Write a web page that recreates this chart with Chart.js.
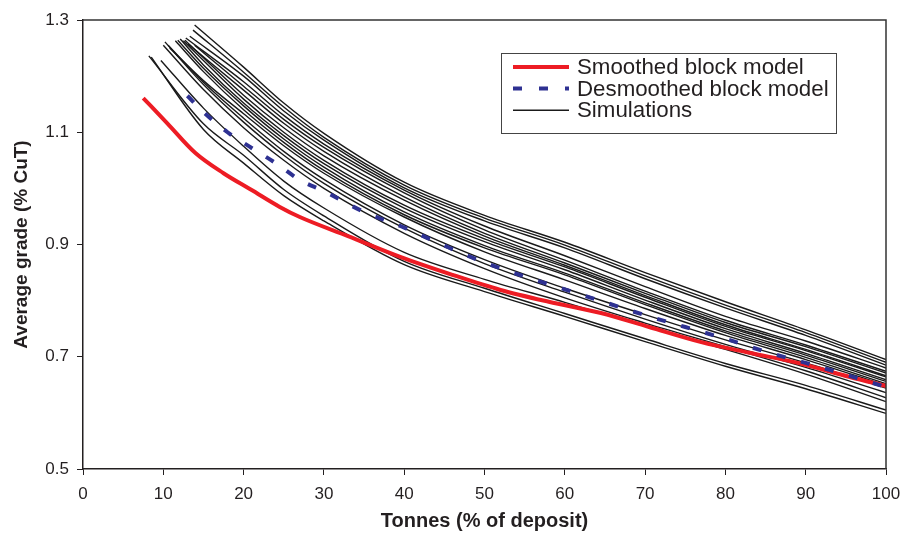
<!DOCTYPE html>
<html>
<head>
<meta charset="utf-8">
<script src="https://cdn.jsdelivr.net/npm/chart.js"></script>
<style>
  body { margin: 0; background: #fff; }
</style>
</head>
<body>
<canvas id="gradeChart" width="903" height="534"></canvas>
<script>
// smoothed block model (red)
var smoothX = [7.5, 10.5, 14, 17.5, 21, 24.5, 27, 33, 39.5, 46, 52, 58, 64.5, 70.5, 77, 83, 89, 95.5, 100];
var smoothY = [1.161, 1.116, 1.063, 1.027, 0.997, 0.967, 0.949, 0.915, 0.878, 0.846, 0.819, 0.798, 0.778, 0.753, 0.726, 0.707, 0.689, 0.664, 0.648];

// desmoothed block model (blue dashed)
var desmoothX = [13, 15, 18, 21, 24, 27, 30, 35, 40, 45, 50, 55, 60, 65, 70, 75, 80, 85, 90, 95, 100];
var desmoothY = [1.165, 1.136, 1.1, 1.072, 1.045, 1.015, 0.995, 0.958, 0.93, 0.898, 0.868, 0.843, 0.82, 0.797, 0.774, 0.753, 0.732, 0.709, 0.689, 0.668, 0.646];

// simulations: start point, value at 15 (if started before), then values on a common grid
var simStartX = [13.9, 13.7, 13.3, 12.8, 13.9, 13.1, 12.7, 12.5, 12.1, 11.8, 11.5, 10.8, 10.6, 10.2, 10.0, 9.7, 8.2, 8.5];
var simStartY = [1.291, 1.282, 1.271, 1.268, 1.255, 1.257, 1.264, 1.263, 1.266, 1.264, 1.263, 1.250, 1.255, 1.261, 1.255, 1.228, 1.236, 1.234];
var simAt15 = [null, null, null, null, null, null, null, null, 1.220, 1.214, 1.208, 1.192, 1.189, 1.185, 1.176, 1.143, 1.115, 1.105];
var simGridX = [20, 25, 30, 40, 50, 60, 70, 80, 90, 100];

var sim01 = [1.216, 1.152, 1.098, 1.011, 0.952, 0.904, 0.850, 0.798, 0.748, 0.695];
var sim02 = [1.207, 1.145, 1.091, 1.006, 0.947, 0.899, 0.844, 0.792, 0.743, 0.690];
var sim03 = [1.200, 1.138, 1.086, 1.001, 0.942, 0.894, 0.839, 0.787, 0.738, 0.685];
var sim04 = [1.190, 1.130, 1.079, 0.997, 0.933, 0.880, 0.825, 0.772, 0.728, 0.680];
var sim05 = [1.182, 1.123, 1.073, 0.992, 0.926, 0.872, 0.817, 0.765, 0.721, 0.674];
var sim06 = [1.175, 1.116, 1.066, 0.985, 0.920, 0.867, 0.813, 0.761, 0.718, 0.671];
var sim07 = [1.166, 1.108, 1.058, 0.979, 0.915, 0.863, 0.809, 0.757, 0.713, 0.666];
var sim08 = [1.159, 1.100, 1.050, 0.970, 0.910, 0.860, 0.806, 0.754, 0.711, 0.664];
var sim09 = [1.152, 1.094, 1.044, 0.965, 0.905, 0.855, 0.801, 0.750, 0.706, 0.659];
var sim10 = [1.147, 1.088, 1.038, 0.958, 0.898, 0.849, 0.796, 0.746, 0.703, 0.656];
var sim11 = [1.140, 1.082, 1.032, 0.953, 0.894, 0.846, 0.793, 0.743, 0.699, 0.652];
var sim12 = [1.133, 1.076, 1.027, 0.949, 0.887, 0.837, 0.786, 0.738, 0.695, 0.649];
var sim13 = [1.125, 1.066, 1.016, 0.935, 0.873, 0.822, 0.775, 0.730, 0.689, 0.644];
var sim14 = [1.118, 1.059, 1.009, 0.929, 0.866, 0.815, 0.767, 0.722, 0.681, 0.636];
var sim15 = [1.108, 1.050, 1.000, 0.920, 0.857, 0.805, 0.760, 0.718, 0.675, 0.627];
var sim16 = [1.075, 1.013, 0.965, 0.886, 0.838, 0.797, 0.754, 0.713, 0.669, 0.620];
var sim17 = [1.059, 0.998, 0.951, 0.870, 0.822, 0.777, 0.732, 0.688, 0.649, 0.605];
var sim18 = [1.045, 0.987, 0.942, 0.864, 0.816, 0.772, 0.727, 0.683, 0.643, 0.599];
var simRows = [sim01, sim02, sim03, sim04, sim05, sim06, sim07, sim08, sim09,
               sim10, sim11, sim12, sim13, sim14, sim15, sim16, sim17, sim18];

var xTicks = [0, 10, 20, 30, 40, 50, 60, 70, 80, 90, 100];
var yTicks = [0.5, 0.7, 0.9, 1.1, 1.3];

var FONT = "'Liberation Sans', Arial, sans-serif";
var INK = '#231f20';

function pairs(xs, ys) {
	var out = [];
	for (var i in xs) {
		out.push({ x: xs[i], y: ys[i] });
	}
	return out;
}

function simPoints(i) {
	var pts = [{ x: simStartX[i], y: simStartY[i] }];
	if (simAt15[i] !== null) pts.push({ x: 15, y: simAt15[i] });
	return pts.concat(pairs(simGridX, simRows[i]));
}

var datasets = [
	{
		label: 'Smoothed block model',
		data: pairs(smoothX, smoothY),
		borderColor: '#ed1c24',
		borderWidth: 4,
		order: 1
	},
	{
		label: 'Desmoothed block model',
		data: pairs(desmoothX, desmoothY),
		borderColor: '#2e3192',
		borderWidth: 4,
		borderDash: [9, 16],
		order: 0
	}
];
for (var s = 0; s < simRows.length; s++) {
	datasets.push({
		label: 'Simulations',
		data: simPoints(s),
		borderColor: '#1a1a1a',
		borderWidth: 1.4,
		order: 2
	});
}

// box on top / right of the plot, like the original frame
var frame = {
	id: 'frame',
	afterDatasetsDraw: function(chart) {
		var a = chart.chartArea, c = chart.ctx;
		c.save();
		c.strokeStyle = '#333';
		c.lineWidth = 1.5;
		c.beginPath();
		c.moveTo(a.left, a.top);
		c.lineTo(a.right, a.top);
		c.lineTo(a.right, a.bottom);
		c.stroke();
		c.restore();
	}
};

// legend with a border box, items taken from the datasets
var boxLegend = {
	id: 'boxLegend',
	afterDraw: function(chart) {
		var c = chart.ctx;
		var items = [chart.data.datasets[0], chart.data.datasets[1], chart.data.datasets[2]];
		var bx = 501, by = 53, bw = 335, bh = 80;
		c.save();
		c.fillStyle = '#fff';
		c.fillRect(bx, by, bw, bh);
		c.strokeStyle = '#444';
		c.lineWidth = 1;
		c.strokeRect(bx + 0.5, by + 0.5, bw, bh);
		c.font = '22.3px ' + FONT;
		c.textBaseline = 'middle';
		for (var i = 0; i < items.length; i++) {
			var ds = items[i];
			var y = by + 14 + i * 21.6;
			c.beginPath();
			c.strokeStyle = ds.borderColor;
			c.lineWidth = ds.borderWidth;
			c.setLineDash(ds.borderDash ? [9, 17] : []);
			c.moveTo(513, y);
			c.lineTo(569, y);
			c.stroke();
			c.setLineDash([]);
			c.fillStyle = INK;
			c.fillText(ds.label, 577, y + 1);
		}
		c.restore();
	}
};

var ctx = document.getElementById('gradeChart');

var lineChart = new Chart(ctx, {
	type: 'line',
	data: { datasets: datasets },
	options: {
		responsive: false,
		animation: false,
		devicePixelRatio: 1,
		layout: { padding: { left: 0, top: 20, right: 17, bottom: 0 } },
		elements: {
			point: { radius: 0 },
			line: { cubicInterpolationMode: 'monotone', fill: false }
		},
		plugins: {
			legend: { display: false },
			tooltip: { enabled: false }
		},
		scales: {
			x: {
				type: 'linear',
				min: 0,
				max: 100,
				afterFit: function(scale) {
					scale.height = 65;
					scale.paddingLeft = 0;
					scale.paddingRight = 0;
				},
				afterBuildTicks: function(scale) {
					scale.ticks = xTicks.map(function(v) { return { value: v }; });
				},
				grid: { drawOnChartArea: false, color: INK, tickLength: 6 },
				border: { color: INK, width: 1.5 },
				ticks: { color: INK, padding: 9, maxRotation: 0, font: { family: FONT, size: 17 } },
				title: {
					display: true,
					text: 'Tonnes (% of deposit)',
					color: INK,
					padding: { top: 0, bottom: 1 },
					font: { family: FONT, size: 20, weight: 'bold' }
				}
			},
			y: {
				type: 'linear',
				min: 0.5,
				max: 1.3,
				afterFit: function(scale) {
					scale.width = 83;
					scale.paddingTop = 0;
					scale.paddingBottom = 0;
				},
				afterBuildTicks: function(scale) {
					scale.ticks = yTicks.map(function(v) { return { value: v }; });
				},
				grid: { drawOnChartArea: false, color: INK, tickLength: 6 },
				border: { color: INK, width: 1.5 },
				ticks: {
					color: INK,
					padding: 8,
					font: { family: FONT, size: 17 },
					callback: function(v) { return v.toFixed(1); }
				},
				title: {
					display: true,
					text: 'Average grade (% CuT)',
					color: INK,
					padding: { top: 10, bottom: 0 },
					font: { family: FONT, size: 19, weight: 'bold' }
				}
			}
		}
	},
	plugins: [frame, boxLegend]
});
</script>
</body>
</html>
